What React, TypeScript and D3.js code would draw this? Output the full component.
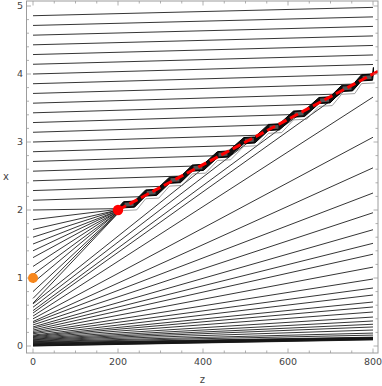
import React from 'react'
import * as d3 from 'd3'

const W = 382
const H = 386
const frame = { left: 26.5, right: 378, top: 1, bottom: 353 }

const zTicks = [0, 200, 400, 600, 800]
const xTicks = [0, 1, 2, 3, 4, 5]

// characteristics above the shock: start at z=0, value at z=800 (before clipping)
const upperStarts = [4.857, 4.714, 4.571, 4.429, 4.286, 4.143, 4.0, 3.857, 3.714, 3.571, 3.429, 3.286, 3.143, 3.0, 2.857, 2.714, 2.571, 2.429, 2.286, 2.143]
const upperEnds = [4.98, 4.84, 4.7, 4.56, 4.42, 4.28, 4.14, 4.0, 3.86, 3.72, 3.58, 3.44, 3.3, 3.15, 3.01, 2.87, 2.73, 2.59, 2.45, 2.31]

// characteristics focusing into the red point
const focusStarts = [2.0, 1.857, 1.714, 1.6, 1.5, 1.4, 1.3, 1.17, 1.05, 0.93, 0.8, 0.7, 0.63]
const focusEnds = [2.02, 2.01, 2.0, 2.0, 1.99, 1.99, 1.98, 1.98, 1.97, 1.97, 1.96, 1.96, 1.95]

// lower fan: start at z=0, value at z=800 (before clipping)
const lowerStarts = [0.62, 0.57, 0.52, 0.485, 0.44, 0.4, 0.36, 0.34, 0.31, 0.28, 0.26, 0.235, 0.215, 0.196, 0.18, 0.16, 0.148, 0.137, 0.125, 0.113, 0.102, 0.092, 0.082, 0.072, 0.063, 0.055, 0.047, 0.04, 0.033, 0.026, 0.02, 0.014, 0.008, 0.003, 0.0]
const lowerEnds = [4.6, 4.4, 4.2, 4.05, 3.66, 3.07, 2.62, 2.25, 1.96, 1.71, 1.51, 1.35, 1.16, 0.985, 0.853, 0.75, 0.647, 0.574, 0.5, 0.426, 0.368, 0.32, 0.28, 0.235, 0.19, 0.16, 0.13, 0.125, 0.12, 0.115, 0.11, 0.105, 0.1, 0.095, 0.09]

const shockStart = [200, 2]
const shockEnd = [800, 4]
const stepCenters = [226, 278, 334, 388, 447, 509, 567, 626, 686, 739, 786]

const orangePoint = [0, 1]
const redPoint = [200, 2]

const zScale = d3.scaleLinear().domain([0, 800]).range([33, 373])
const xScale = d3.scaleLinear().domain([0, 5]).range([346, 6])

const shockSlope = (shockEnd[1] - shockStart[1]) / (shockEnd[0] - shockStart[0])
const shock = (z: number) => shockStart[1] + shockSlope * (z - shockStart[0])

// end of a characteristic where it meets the shock (or z=800)
function clipped(a: number, b: number): [number, number][] {
  const m = (b - a) / 800
  let zEnd = 800
  if (Math.abs(shockSlope - m) > 1e-9) {
    const zi = (a - shockStart[1] + shockStart[0] * shockSlope) / (shockSlope - m)
    if (zi >= shockStart[0] && zi <= 800) zEnd = zi
  }
  return [[0, a], [zEnd, a + m * zEnd]]
}

const line = d3.line<[number, number]>().x(d => zScale(d[0])).y(d => xScale(d[1]))

export default function App() {
  const frameGray = '#9c9c9c'
  const labelColor = '#444'
  const font = 'DejaVu Sans, sans-serif'

  const upperPaths = upperStarts.map((a, i) => line(clipped(a, upperEnds[i])))
  const lowerPaths = lowerStarts.map((a, i) => line(clipped(a, lowerEnds[i])))
  const focusPaths = focusStarts.map((a, i) => line([[0, a], [redPoint[0], focusEnds[i]]]))

  // staircase along the shock
  const hw = 13
  const lowPts: [number, number][] = [[redPoint[0], redPoint[1] - 0.03]]
  const highPts: [number, number][] = [[redPoint[0], redPoint[1] + 0.03]]
  const ghostPts: [number, number][] = [[redPoint[0], redPoint[1] - 0.06]]
  const boxes: string[] = []
  stepCenters.forEach(zc => {
    const s = shock(zc)
    lowPts.push([zc - hw, s - 0.055], [zc + hw, s - 0.045])
    highPts.push([zc - hw, s + 0.035], [zc + hw, s + 0.045])
    ghostPts.push([zc - hw, s - 0.095], [zc + hw + 5, s - 0.085])
    boxes.push(line([[zc - hw + 2.5, s - 0.035], [zc + hw - 2.5, s - 0.027], [zc + hw - 2.5, s + 0.027], [zc - hw + 2.5, s + 0.019]])! + 'Z')
  })
  const lastZ = stepCenters[stepCenters.length - 1] + hw
  lowPts.push([lastZ + 2, shock(lastZ) + 0.02])
  highPts.push([lastZ + 2, shock(lastZ) + 0.1])
  const band = line([...lowPts, ...highPts.slice().reverse()])! + 'Z'

  const zRight = zScale.invert(frame.right)
  const zMinor = d3.range(0, 801, 50)
  const xMinor = d3.range(0, 5.01, 0.2)

  return (
    <svg width={W} height={H} style={{ position: 'fixed', left: 0, top: 0, background: '#fff' }}>
      <defs>
        <clipPath id="plotclip">
          <rect x={frame.left} y={frame.top} width={frame.right - frame.left} height={frame.bottom - frame.top} />
        </clipPath>
      </defs>
      <g clipPath="url(#plotclip)" fill="none">
        {lowerPaths.map((d, i) => <path key={'l' + i} d={d!} stroke="#111" strokeWidth={0.85} />)}
        {focusPaths.map((d, i) => <path key={'f' + i} d={d!} stroke="#111" strokeWidth={0.85} />)}
        {upperPaths.map((d, i) => <path key={'u' + i} d={d!} stroke="#111" strokeWidth={0.85} />)}
        <path d={line(ghostPts)!} stroke="#777" strokeWidth={0.7} />
        <path d={band} fill="#111" stroke="#000" strokeWidth={1} />
        {boxes.map((d, i) => <path key={'b' + i} d={d} fill="#555" stroke="none" />)}
        <path d={line([[shockStart[0], shockStart[1]], [zRight, shock(zRight)]])!} stroke="#ff0000" strokeWidth={3} strokeDasharray="9,4" />
      </g>

      {/* frame */}
      <rect x={frame.left} y={frame.top} width={frame.right - frame.left} height={frame.bottom - frame.top} fill="none" stroke={frameGray} strokeWidth={1} />
      {zMinor.map(z => {
        const major = z % 200 === 0
        const len = major ? 4.5 : 2.5
        const x = zScale(z)
        return (
          <g key={'zt' + z} stroke={frameGray} strokeWidth={0.8}>
            <line x1={x} x2={x} y1={frame.bottom} y2={frame.bottom - len} />
            <line x1={x} x2={x} y1={frame.top} y2={frame.top + len} />
          </g>
        )
      })}
      {xMinor.map((v, i) => {
        const major = i % 5 === 0
        const len = major ? 4.5 : 2.5
        const y = xScale(v)
        return (
          <g key={'xt' + i} stroke={frameGray} strokeWidth={0.8}>
            <line x1={frame.left} x2={frame.left + len} y1={y} y2={y} />
            <line x1={frame.right} x2={frame.right - len} y1={y} y2={y} />
          </g>
        )
      })}
      {zTicks.map(z => (
        <text key={'zl' + z} x={zScale(z)} y={365} textAnchor="middle" fontFamily={font} fontSize={9.5} fill={labelColor}>{z}</text>
      ))}
      {xTicks.map(v => (
        <text key={'xl' + v} x={23} y={xScale(v) + 3.4} textAnchor="end" fontFamily={font} fontSize={9.5} fill={labelColor}>{v}</text>
      ))}
      <text x={(frame.left + frame.right) / 2} y={383} textAnchor="middle" fontFamily={font} fontSize={10} fill={labelColor}>z</text>
      <text x={6} y={180} textAnchor="middle" fontFamily={font} fontSize={10} fill={labelColor}>x</text>

      <circle cx={zScale(orangePoint[0])} cy={xScale(orangePoint[1])} r={5} fill="#f7871d" />
      <circle cx={zScale(redPoint[0])} cy={xScale(redPoint[1])} r={5.2} fill="#ff0000" />
    </svg>
  )
}
